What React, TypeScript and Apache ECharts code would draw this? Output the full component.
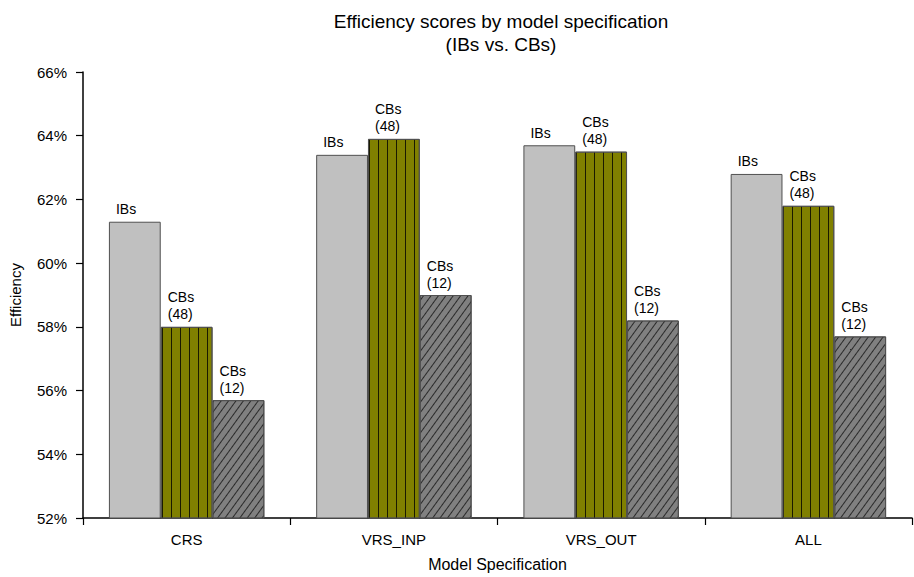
import React, { useEffect, useRef } from "react";
import * as echarts from "echarts";

const categories = ["CRS", "VRS_INP", "VRS_OUT", "ALL"];
const ibsValues = [61.3, 63.4, 63.7, 62.8];
const cbs48Values = [58.0, 63.9, 63.5, 61.8];
const cbs12Values = [55.7, 59.0, 58.2, 57.7];
const yTicks = { min: 52, max: 66, interval: 2 };

const FONT = "Liberation Sans, Arial, sans-serif";

export default function App() {
  const ref = useRef<HTMLDivElement>(null);
  useEffect(() => {
    if (!ref.current) return;
    const chart = echarts.init(ref.current, null, { renderer: "svg" });
    const labelBase = {
      show: true,
      position: [7, -4],
      align: "left",
      verticalAlign: "bottom",
      fontSize: 14,
      lineHeight: 17,
      fontFamily: FONT,
      color: "#000",
    };
    const border = { borderColor: "#505050", borderWidth: 1 };
    chart.setOption({
      animation: false,
      textStyle: { fontFamily: FONT },
      title: {
        text: "Efficiency scores by model specification\n(IBs vs. CBs)",
        left: 496,
        textAlign: "center",
        top: 5,
        textStyle: { fontSize: 19, fontWeight: "normal", color: "#000", lineHeight: 23, fontFamily: FONT },
      },
      grid: { left: 80, right: 2, top: 72, bottom: 58, containLabel: false },
      xAxis: {
        type: "category",
        data: categories,
        name: "Model Specification",
        nameLocation: "middle",
        nameGap: 38,
        nameTextStyle: { fontSize: 16, color: "#000", fontFamily: FONT },
        axisLine: { lineStyle: { color: "#000", width: 1.5 } },
        axisTick: { show: true, length: 7, lineStyle: { color: "#000", width: 1.2 } },
        axisLabel: { fontSize: 15, color: "#000", margin: 14, fontFamily: FONT },
      },
      yAxis: {
        type: "value",
        min: yTicks.min,
        max: yTicks.max,
        interval: yTicks.interval,
        name: "Efficiency",
        nameLocation: "middle",
        nameGap: 60,
        nameTextStyle: { fontSize: 15, color: "#000", fontFamily: FONT },
        axisLine: { show: true, lineStyle: { color: "#000", width: 1.5 } },
        axisTick: { show: true, length: 7, lineStyle: { color: "#000", width: 1.2 } },
        axisLabel: { fontSize: 15, color: "#000", margin: 16, formatter: "{value}%", fontFamily: FONT },
        splitLine: { show: false },
      },
      series: [
        {
          name: "IBs",
          type: "bar",
          data: ibsValues,
          barGap: "0%",
          barCategoryGap: "25%",
          itemStyle: { color: "#c0c0c0", ...border },
          label: { ...labelBase, formatter: "IBs" },
        },
        {
          name: "CBs (48)",
          type: "bar",
          data: cbs48Values,
          barGap: "0%",
          barCategoryGap: "25%",
          itemStyle: {
            color: "#808000",
            ...border,
            decal: {
              symbol: "rect",
              symbolSize: 1,
              color: "#1a1a00",
              dashArrayX: [1, 8],
              dashArrayY: [4, 0],
              rotation: 0,
            },
          },
          label: { ...labelBase, formatter: "CBs\n(48)" },
        },
        {
          name: "CBs (12)",
          type: "bar",
          data: cbs12Values,
          barGap: "0%",
          barCategoryGap: "25%",
          itemStyle: {
            color: "#808080",
            ...border,
            decal: {
              symbol: "rect",
              symbolSize: 1,
              color: "#2a2a2a",
              dashArrayX: [4, 0],
              dashArrayY: [1, 5],
              rotation: -Math.PI * 0.3,
            },
          },
          label: { ...labelBase, formatter: "CBs\n(12)" },
        },
      ],
    });
    return () => chart.dispose();
  }, []);
  return <div ref={ref} style={{ width: 914, height: 577, position: "absolute", left: 0, top: 0 }} />;
}
